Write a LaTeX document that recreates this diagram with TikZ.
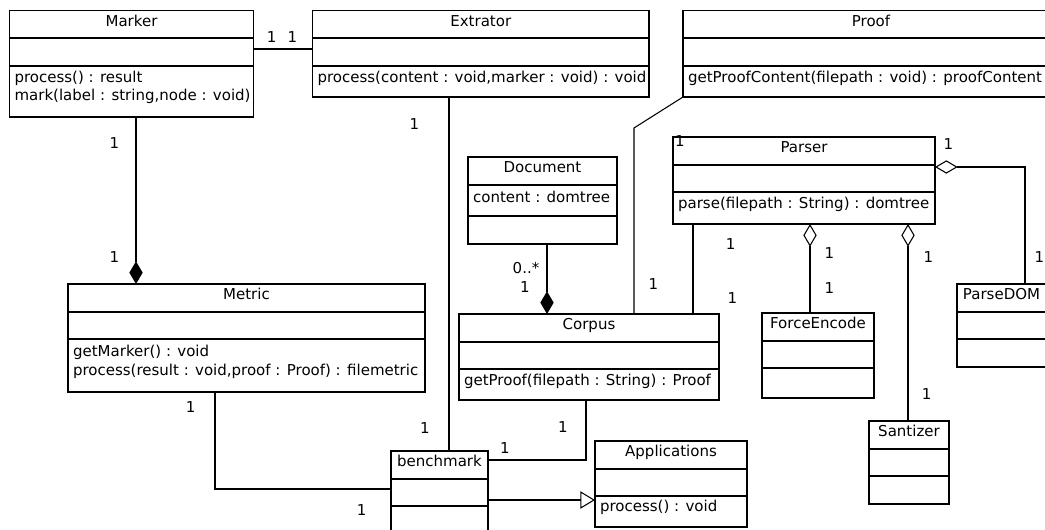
\documentclass[tikz,border=0pt]{standalone}
\usepackage{fontspec}
\setmainfont{DejaVu Sans}
\usetikzlibrary{arrows.meta}
\tikzset{
  classnode/.style={draw, line width=0.8pt, inner sep=0pt, outer sep=0pt, anchor=north west, fill=white},
  divider/.style={line width=0.8pt},
  titletext/.style={anchor=base, inner sep=0pt},
  membertext/.style={anchor=base west, inner sep=0pt},
  assoc/.style={line width=0.8pt},
  lbl/.style={inner sep=0pt},
  comp/.style={assoc, -{Diamond[length=17pt,width=10pt]}},
  aggr/.style={assoc, {Diamond[open,length=17pt,width=10pt]}-},
  realize/.style={assoc, -{Triangle[open,length=11pt,width=13pt]}},
}
% name, x1, y1, x2, y2, divider1, divider2, title
\newcommand\classbox[8]{%
  \node[classnode, minimum width={(#4-#2)*0.75pt}, minimum height={(#5-#3)*0.75pt}] (#1) at (#2,#3) {};
  \draw[divider] (#1.west |- 0,#6) -- (#1.east |- 0,#6);
  \draw[divider] (#1.west |- 0,#7) -- (#1.east |- 0,#7);
  \path (#1.north) ++(0,15.7) node[titletext] {#8};
}
% name, baseline y, text
\newcommand\member[3]{%
  \path (#1.west |- 0,#2) ++(4.8,0) node[membertext] {#3};
}
\begin{document}
\begin{tikzpicture}[x=0.75pt, y=-0.75pt, font=\fontsize{11.25}{13.5}\selectfont]
\useasboundingbox (0,0) rectangle (1045,530);
\clip (0,0) rectangle (1045,530);

% classes
\classbox{marker}{9.5}{10.5}{253.5}{117}{38}{66}{Marker}
\member{marker}{82.4}{process() : result}
\member{marker}{100.8}{mark(label : string,node : void)}

\classbox{extrator}{312.5}{10.5}{649}{97}{38}{66}{Extrator}
\member{extrator}{82.4}{process(content : void,marker : void) : void}

\classbox{proof}{683}{10.5}{1059}{97}{38}{66}{Proof}
\member{proof}{82.4}{getProofContent(filepath : void) : proofContent}

\classbox{parser}{673}{137}{935}{224}{165}{192}{Parser}
\member{parser}{209}{parse(filepath : String) : domtree}

\classbox{document}{468}{157}{617}{244}{185}{216}{Document}
\member{document}{202.5}{content : domtree}

\classbox{corpus}{459}{314}{719}{400}{342}{369}{Corpus}
\member{corpus}{385.7}{getProof(filepath : String) : Proof}

\classbox{metric}{68}{284}{425}{392}{312}{339}{Metric}
\member{metric}{356.6}{getMarker() : void}
\member{metric}{375.2}{process(result : void,proof : Proof) : filemetric}

\classbox{force}{762}{313}{874}{398}{341}{368}{ForceEncode}
\classbox{parsedom}{957}{284}{1046}{367}{312}{339}{ParseDOM}
\classbox{santizer}{869}{421}{949}{504}{449}{476}{Santizer}
\classbox{bench}{391}{451}{488}{560}{479}{506}{benchmark}

\classbox{apps}{595}{441}{747}{527}{469}{496}{Applications}
\member{apps}{511.7}{process() : void}

% connectors
\draw[assoc] (marker.east |- 0,49) -- (extrator.west |- 0,49);
\node[lbl] (m1) at (271.7,37.3) {1};
\node[lbl] (m2) at (292.3,37.3) {1};

\draw[comp] (marker.south -| 136,0) -- (metric.north -| 136,0);
\node[lbl] (m3) at (114.3,142.7) {1};
\node[lbl] (m4) at (114.3,257.3) {1};

\draw[assoc] (extrator.south -| 449,0) -- (bench.north -| 449,0);
\node[lbl] (m5) at (414.3,124) {1};
\node[lbl] (m6) at (425,427.7) {1};

\draw[assoc] (proof.south west) -- (634,128) -- (corpus.north -| 634,0);
\node[lbl] (m7) at (680,141.5) {1};
\node[lbl] (m8) at (653.3,284) {1};

\draw[comp] (document.south -| 547,0) -- (corpus.north -| 547,0);
\node[lbl] (m9) at (526,268.3) {0..*};
\node[lbl] (m10) at (525,286.7) {1};

\draw[assoc] (parser.south -| 693,0) -- (corpus.north -| 693,0);
\node[lbl] (m11) at (730.7,244) {1};
\node[lbl] (m12) at (732.3,298.3) {1};

\draw[aggr] (parser.south -| 810,0) -- (force.north -| 810,0);
\node[lbl] (m13) at (829.3,252.7) {1};
\node[lbl] (m14) at (829.3,288.3) {1};

\draw[aggr] (parser.south -| 908,0) -- (santizer.north -| 908,0);
\node[lbl] (m15) at (928.3,256.7) {1};
\node[lbl] (m16) at (926.7,394.3) {1};

\draw[aggr] (parser.east |- 0,167) -| (parsedom.north -| 1025,0);
\node[lbl] (m17) at (948.3,144) {1};
\node[lbl] (m18) at (1039.5,257) {1};

\draw[assoc] (metric.south -| 215,0) |- (bench.west |- 0,489);
\node[lbl] (m19) at (190.7,407.3) {1};
\node[lbl] (m20) at (361.7,510) {1};

\draw[assoc] (corpus.south -| 586,0) |- (bench.east |- 0,460);
\node[lbl] (m21) at (563,427.3) {1};
\node[lbl] (m22) at (505,448.3) {1};

\draw[realize] (bench.east |- 0,500) -- (apps.west |- 0,500);
\end{tikzpicture}
\end{document}
